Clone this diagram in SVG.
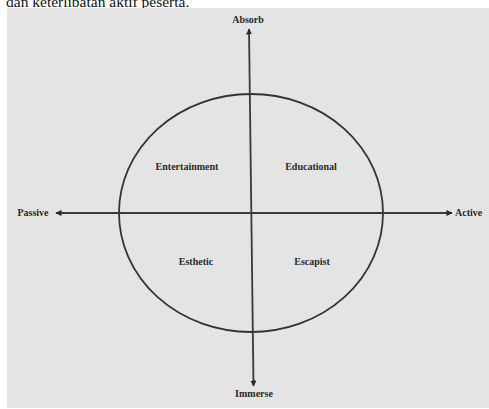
<svg xmlns="http://www.w3.org/2000/svg" width="489" height="409" viewBox="0 0 489 409">
  <style>
    .lbl { font-family: "Liberation Serif", "DejaVu Serif", serif; font-weight: bold; font-size: 10px; fill: #2a2a2a; text-anchor: middle; }
    .axis { stroke: #3a3a3a; stroke-width: 1.8; fill: none; }
  </style>
  <defs>
    <marker id="arr" viewBox="0 0 10 10" refX="9" refY="5" markerWidth="3.4" markerHeight="3.4" orient="auto-start-reverse">
      <path d="M0,0 L10,5 L0,10 Z" fill="#2a2a2a"/>
    </marker>
  </defs>
  <rect x="0" y="0" width="489" height="409" fill="#ffffff"/>
  <text x="6" y="7" font-family="Liberation Serif, serif" font-size="15.5" fill="#111">dan keterlibatan aktif peserta.</text>
  <rect x="7" y="8" width="482" height="400" fill="#e4e4e4"/>
  <g id="circle">
    <ellipse cx="251" cy="213" rx="132" ry="119" fill="none" stroke="#333" stroke-width="1.8"/>
  </g>
  <g id="connectors">
    <line class="axis" x1="249" y1="29" x2="253.5" y2="386" marker-start="url(#arr)" marker-end="url(#arr)"/>
    <line class="axis" x1="56" y1="213" x2="452" y2="213" marker-start="url(#arr)" marker-end="url(#arr)"/>
  </g>
  <g id="absorb"><text class="lbl" x="248" y="23">Absorb</text></g>
  <g id="immerse"><text class="lbl" x="254" y="397">Immerse</text></g>
  <g id="passive"><text class="lbl" x="33" y="216">Passive</text></g>
  <g id="active"><text class="lbl" x="455" y="216" style="text-anchor:start">Active</text></g>
  <g id="entertainment"><text class="lbl" x="187" y="170">Entertainment</text></g>
  <g id="educational"><text class="lbl" x="311" y="170">Educational</text></g>
  <g id="esthetic"><text class="lbl" x="196" y="265">Esthetic</text></g>
  <g id="escapist"><text class="lbl" x="312" y="265">Escapist</text></g>
</svg>
